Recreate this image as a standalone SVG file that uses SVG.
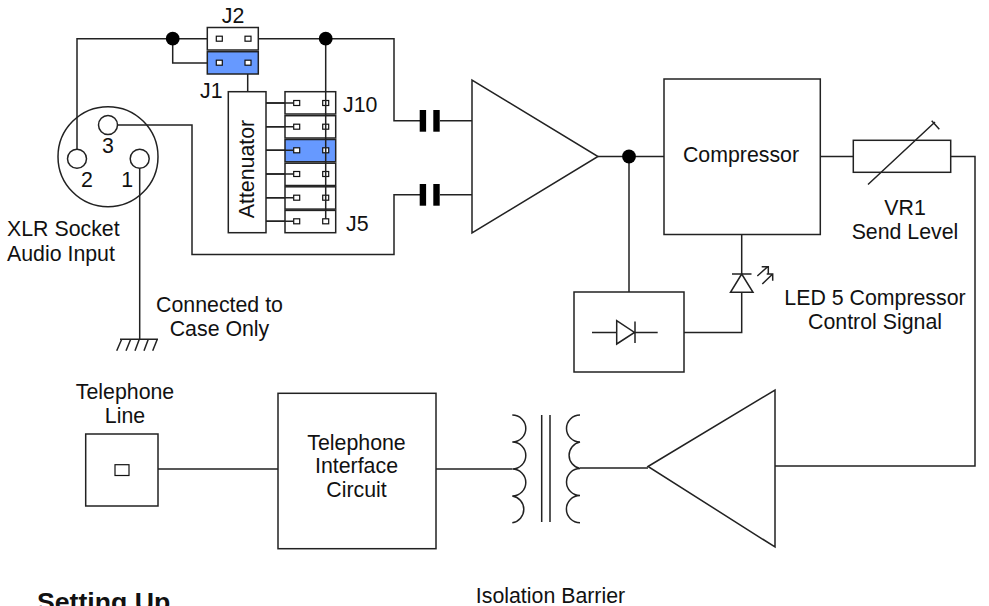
<svg xmlns="http://www.w3.org/2000/svg" width="989" height="606" viewBox="0 0 989 606">
<style>
.w{fill:none;stroke:#222;stroke-width:1.5}
.n{fill:#fff;stroke:#222;stroke-width:1.5}
.o{fill:none;stroke:#222;stroke-width:1.5}
.b{fill:#6699ff;stroke:#222;stroke-width:1.5}
.t{fill:#fff;stroke:#111;stroke-width:1.2}
.d{fill:#000}
text{font-family:"Liberation Sans",Arial,sans-serif;font-size:21.33px;fill:#111}
.c{text-anchor:middle}
</style>
<defs>
<rect id="pin" class="t" x="-3" y="-2.5" width="6" height="5"/>
</defs>
<rect width="989" height="606" fill="#fff"/>
<g id="connectors">
<path class="w" d="M77 149V38.7H207M172.7 38.7V63H207M258 38.7H394V120.7H420M440 120.7H472M325.7 38.7V92M118 125H192V254.5H394V194.7H420M440 194.7H472"/>
<path class="w" d="M247.7 63V92M266 103H296M266 126.7H296M266 150.3H296M266 174H296M266 197.7H296M266 221.3H296"/>
<path class="w" d="M139.7 168V339.3"/>
<path class="w" d="M598 156.5H664M629 156.5V292M820 156.5H853M951 156.5H975V466H775M684 332.5H741.7V292M741.7 274V235"/>
<path class="w" d="M648 468H580M512 469H436M278 469H158"/>
</g>
<g id="xlr">
<circle class="o" cx="108" cy="156.7" r="50"/>
<circle class="n" cx="108" cy="125" r="9.5"/>
<circle class="n" cx="77" cy="158.7" r="9.5"/>
<circle class="n" cx="139.7" cy="158.7" r="9.5"/>
<text class="c" x="108" y="153.3">3</text>
<text class="c" x="87" y="186.7">2</text>
<text class="c" x="127.3" y="186.7">1</text>
<text x="7" y="236">XLR Socket</text>
<text x="7" y="260.5">Audio Input</text>
</g>
<g id="junctions">
<circle class="d" cx="172.7" cy="38.7" r="6.9"/>
<circle class="d" cx="325.7" cy="38.7" r="6.9"/>
<circle class="d" cx="629" cy="156.5" r="6.9"/>
</g>
<g id="j2">
<rect class="o" x="207.3" y="27.5" width="51" height="22.5"/>
<use href="#pin" x="219.3" y="38.7"/><use href="#pin" x="248" y="38.7"/>
<text class="c" x="233" y="23">J2</text>
</g>
<g id="j1">
<rect class="b" x="207.3" y="51.7" width="51" height="22.3"/>
<use href="#pin" x="219.3" y="62.7"/><use href="#pin" x="248" y="62.7"/>
<text x="200" y="97.5">J1</text>
</g>
<g id="attenuator">
<rect class="n" x="228.3" y="91.7" width="37.7" height="141"/>
<text class="c" transform="translate(253.5 169) rotate(-90)">Attenuator</text>
</g>
<g id="jumpers">
<rect class="n" x="285" y="91.7" width="50.7" height="22.3"/>
<rect class="n" x="285" y="115.7" width="50.7" height="22.3"/>
<rect class="b" x="285" y="139.5" width="50.7" height="22.3"/>
<rect class="n" x="285" y="163.2" width="50.7" height="22.3"/>
<rect class="n" x="285" y="186.8" width="50.7" height="22.3"/>
<rect class="n" x="285" y="210.4" width="50.7" height="22.3"/>
<use href="#pin" x="296.7" y="103"/><use href="#pin" x="325.7" y="103"/>
<use href="#pin" x="296.7" y="126.7"/><use href="#pin" x="325.7" y="126.7"/>
<use href="#pin" x="296.7" y="150.3"/><use href="#pin" x="325.7" y="150.3"/>
<use href="#pin" x="296.7" y="174"/><use href="#pin" x="325.7" y="174"/>
<use href="#pin" x="296.7" y="197.7"/><use href="#pin" x="325.7" y="197.7"/>
<use href="#pin" x="296.7" y="221.3"/><use href="#pin" x="325.7" y="221.3"/>
<path class="w" d="M325.7 92V219"/>
<path class="w" d="M266 103H294M266 126.7H294M266 150.3H294M266 174H294M266 197.7H294M266 221.3H294"/>
<text x="343" y="112">J10</text>
<text x="346" y="231">J5</text>
</g>
<g id="cap1"><rect class="d" x="419.7" y="110" width="6.4" height="21.7"/><rect class="d" x="433.3" y="110" width="6.4" height="21.7"/></g>
<g id="cap2"><rect class="d" x="419.7" y="184" width="6.4" height="21.7"/><rect class="d" x="433.3" y="184" width="6.4" height="21.7"/></g>
<g id="amp1"><path class="n" d="M472 80V233L598 156.5Z"/></g>
<g id="compressor">
<rect class="n" x="664" y="79" width="156.3" height="155.5"/>
<text class="c" x="741" y="161.7">Compressor</text>
</g>
<g id="vr1">
<rect class="n" x="853.3" y="140.3" width="97.4" height="32"/>
<path class="w" d="M868 184.5L935 122M931.7 120.7L939.3 129.3"/>
<text class="c" x="905" y="215">VR1</text>
<text class="c" x="905" y="238.5">Send Level</text>
</g>
<g id="detector">
<rect class="n" x="574" y="292" width="110" height="80"/>
<path class="w" d="M592 332.4H616.7M635 332.4H657.7M616.7 320.7V344L634.5 332.4ZM635 321.5V343"/>
</g>
<g id="led">
<path class="n" d="M741.7 274L730.5 292.3H753Z"/>
<path class="w" d="M732 274H751.5M757.3 276L767.7 266.7M761.7 266.7H768.3V273.3M762.3 284L772.7 274M766.7 274H772.7V280.7"/>
<text class="c" x="875" y="305">LED 5 Compressor</text>
<text class="c" x="875" y="328.5">Control Signal</text>
</g>
<g id="ground">
<path class="w" d="M120 339.3H158M121.7 339.3L116.7 350.7M130.7 339.3L126 350.7M139.3 339.3L135 350.7M148.3 339.3L144 350.7M157.3 339.3L152.7 350.7"/>
<text class="c" x="219.5" y="312">Connected to</text>
<text class="c" x="219.5" y="336">Case Only</text>
</g>
<g id="telephone-line">
<rect class="n" x="85.7" y="434" width="72.3" height="72"/>
<rect class="t" x="115" y="464.7" width="14" height="10.8"/>
<text class="c" x="125" y="398.5">Telephone</text>
<text class="c" x="125" y="422.5">Line</text>
</g>
<g id="interface">
<rect class="n" x="278" y="393.3" width="158" height="155.4"/>
<text class="c" x="356.5" y="449.5">Telephone</text>
<text class="c" x="356.5" y="473">Interface</text>
<text class="c" x="356.5" y="496.7">Circuit</text>
</g>
<g id="transformer">
<path class="w" d="M512.3 415A13.5 13.5 0 0 1 512.3 442A13.5 13.5 0 0 1 512.3 469A13.5 13.5 0 0 1 512.3 496A13.5 13.5 0 0 1 512.3 522.7"/>
<path class="w" d="M580 415A13.5 13.5 0 0 0 580 442A13.5 13.5 0 0 0 580 468.5A13.5 13.5 0 0 0 580 495.5A13.5 13.5 0 0 0 580 522.7"/>
<path class="w" d="M541.7 415V522M550 415V522"/>
</g>
<g id="amp2"><path class="n" d="M648 466.5L775 390V547Z"/></g>
<text x="37" y="611" style="font-weight:bold;font-size:26.67px">Setting Up</text>
<text class="c" x="550.5" y="603">Isolation Barrier</text>
</svg>
